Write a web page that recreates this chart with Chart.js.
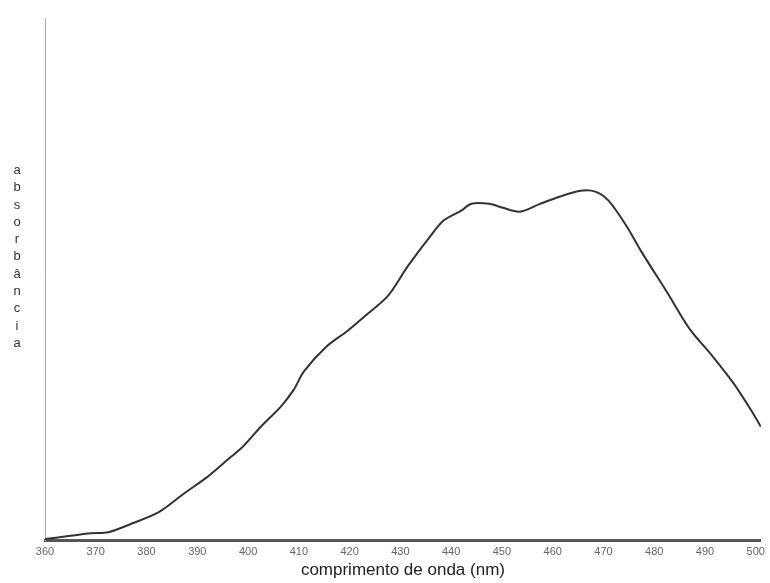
<!DOCTYPE html>
<html>
<head>
<meta charset="utf-8">
<script src="https://cdn.jsdelivr.net/npm/chart.js@4/dist/chart.umd.min.js"></script>
<style>
  html, body { margin: 0; padding: 0; background: #fff; }
  #wrap { position: relative; width: 770px; height: 583px; }
  #ylabel {
    position: absolute; left: 10px; top: 161px; width: 14px;
    font-family: "Liberation Sans", Arial, sans-serif; font-size: 13px;
    line-height: 17.3px; color: #333; text-align: center;
  }
</style>
</head>
<body>
<div id="wrap">
  <canvas id="chart" width="770" height="583"></canvas>
  <div id="ylabel">a<br>b<br>s<br>o<br>r<br>b<br>â<br>n<br>c<br>i<br>a</div>
</div>
<script>
// wavelength (nm)
var wavelengths = [360, 365, 369, 372.5, 377.5, 382.5, 387.5, 392, 396, 399, 402.5, 406.5, 409,
    411, 415.5, 419.5, 423.5, 427.5, 431.5, 435.5, 438.5, 442, 444, 447.5, 450, 453.5,
    457.5, 461.5, 465.5, 468.5, 471, 474.5, 477.5, 482.5, 487, 491.5, 495.5, 499, 501];
// absorbance, arbitrary units (axis has no numbers)
var absorbance = [0.002, 0.008, 0.013, 0.015, 0.033, 0.054, 0.090, 0.121, 0.154, 0.179, 0.217, 0.256, 0.288,
    0.323, 0.371, 0.400, 0.433, 0.467, 0.525, 0.577, 0.612, 0.631, 0.644, 0.644, 0.637, 0.629,
    0.644, 0.658, 0.669, 0.667, 0.650, 0.602, 0.552, 0.475, 0.404, 0.352, 0.302, 0.250, 0.217];
var xTitle = "comprimento de onda (nm)";

var points = [];
for (var i = 0; i < wavelengths.length; i++) {
    points.push({ x: wavelengths[i], y: absorbance[i] });
}

new Chart(document.getElementById("chart"), {
    type: "line",
    data: {
        datasets: [{
            data: points,
            borderColor: "#333",
            borderWidth: 2,
            pointRadius: 0,
            tension: 0.3,
            fill: false
        }]
    },
    options: {
        responsive: false,
        animation: false,
        layout: { padding: { top: 18, right: 8, left: 0, bottom: 0 } },
        plugins: { legend: { display: false }, tooltip: { enabled: false } },
        scales: {
            x: {
                type: "linear",
                min: 360,
                max: 501,
                afterFit: function(s) { s.height = 43; },
                border: { color: "#555", width: 3 },
                grid: { display: false, drawTicks: false },
                ticks: {
                    stepSize: 10,
                    includeBounds: false,
                    padding: 5,
                    color: "#666",
                    font: { family: "'Liberation Sans Narrow', 'Liberation Sans', Arial", size: 11 }
                },
                title: {
                    display: true,
                    text: xTitle,
                    color: "#222",
                    padding: { top: 0, bottom: 2 },
                    font: { family: "'Liberation Sans', Arial", size: 17 }
                }
            },
            y: {
                min: 0,
                max: 1,
                afterFit: function(s) { s.width = 45; },
                border: { color: "#aaa", width: 1, dash: [1, 4] },
                grid: { display: false },
                ticks: { display: false }
            }
        }
    }
});
</script>
</body>
</html>
